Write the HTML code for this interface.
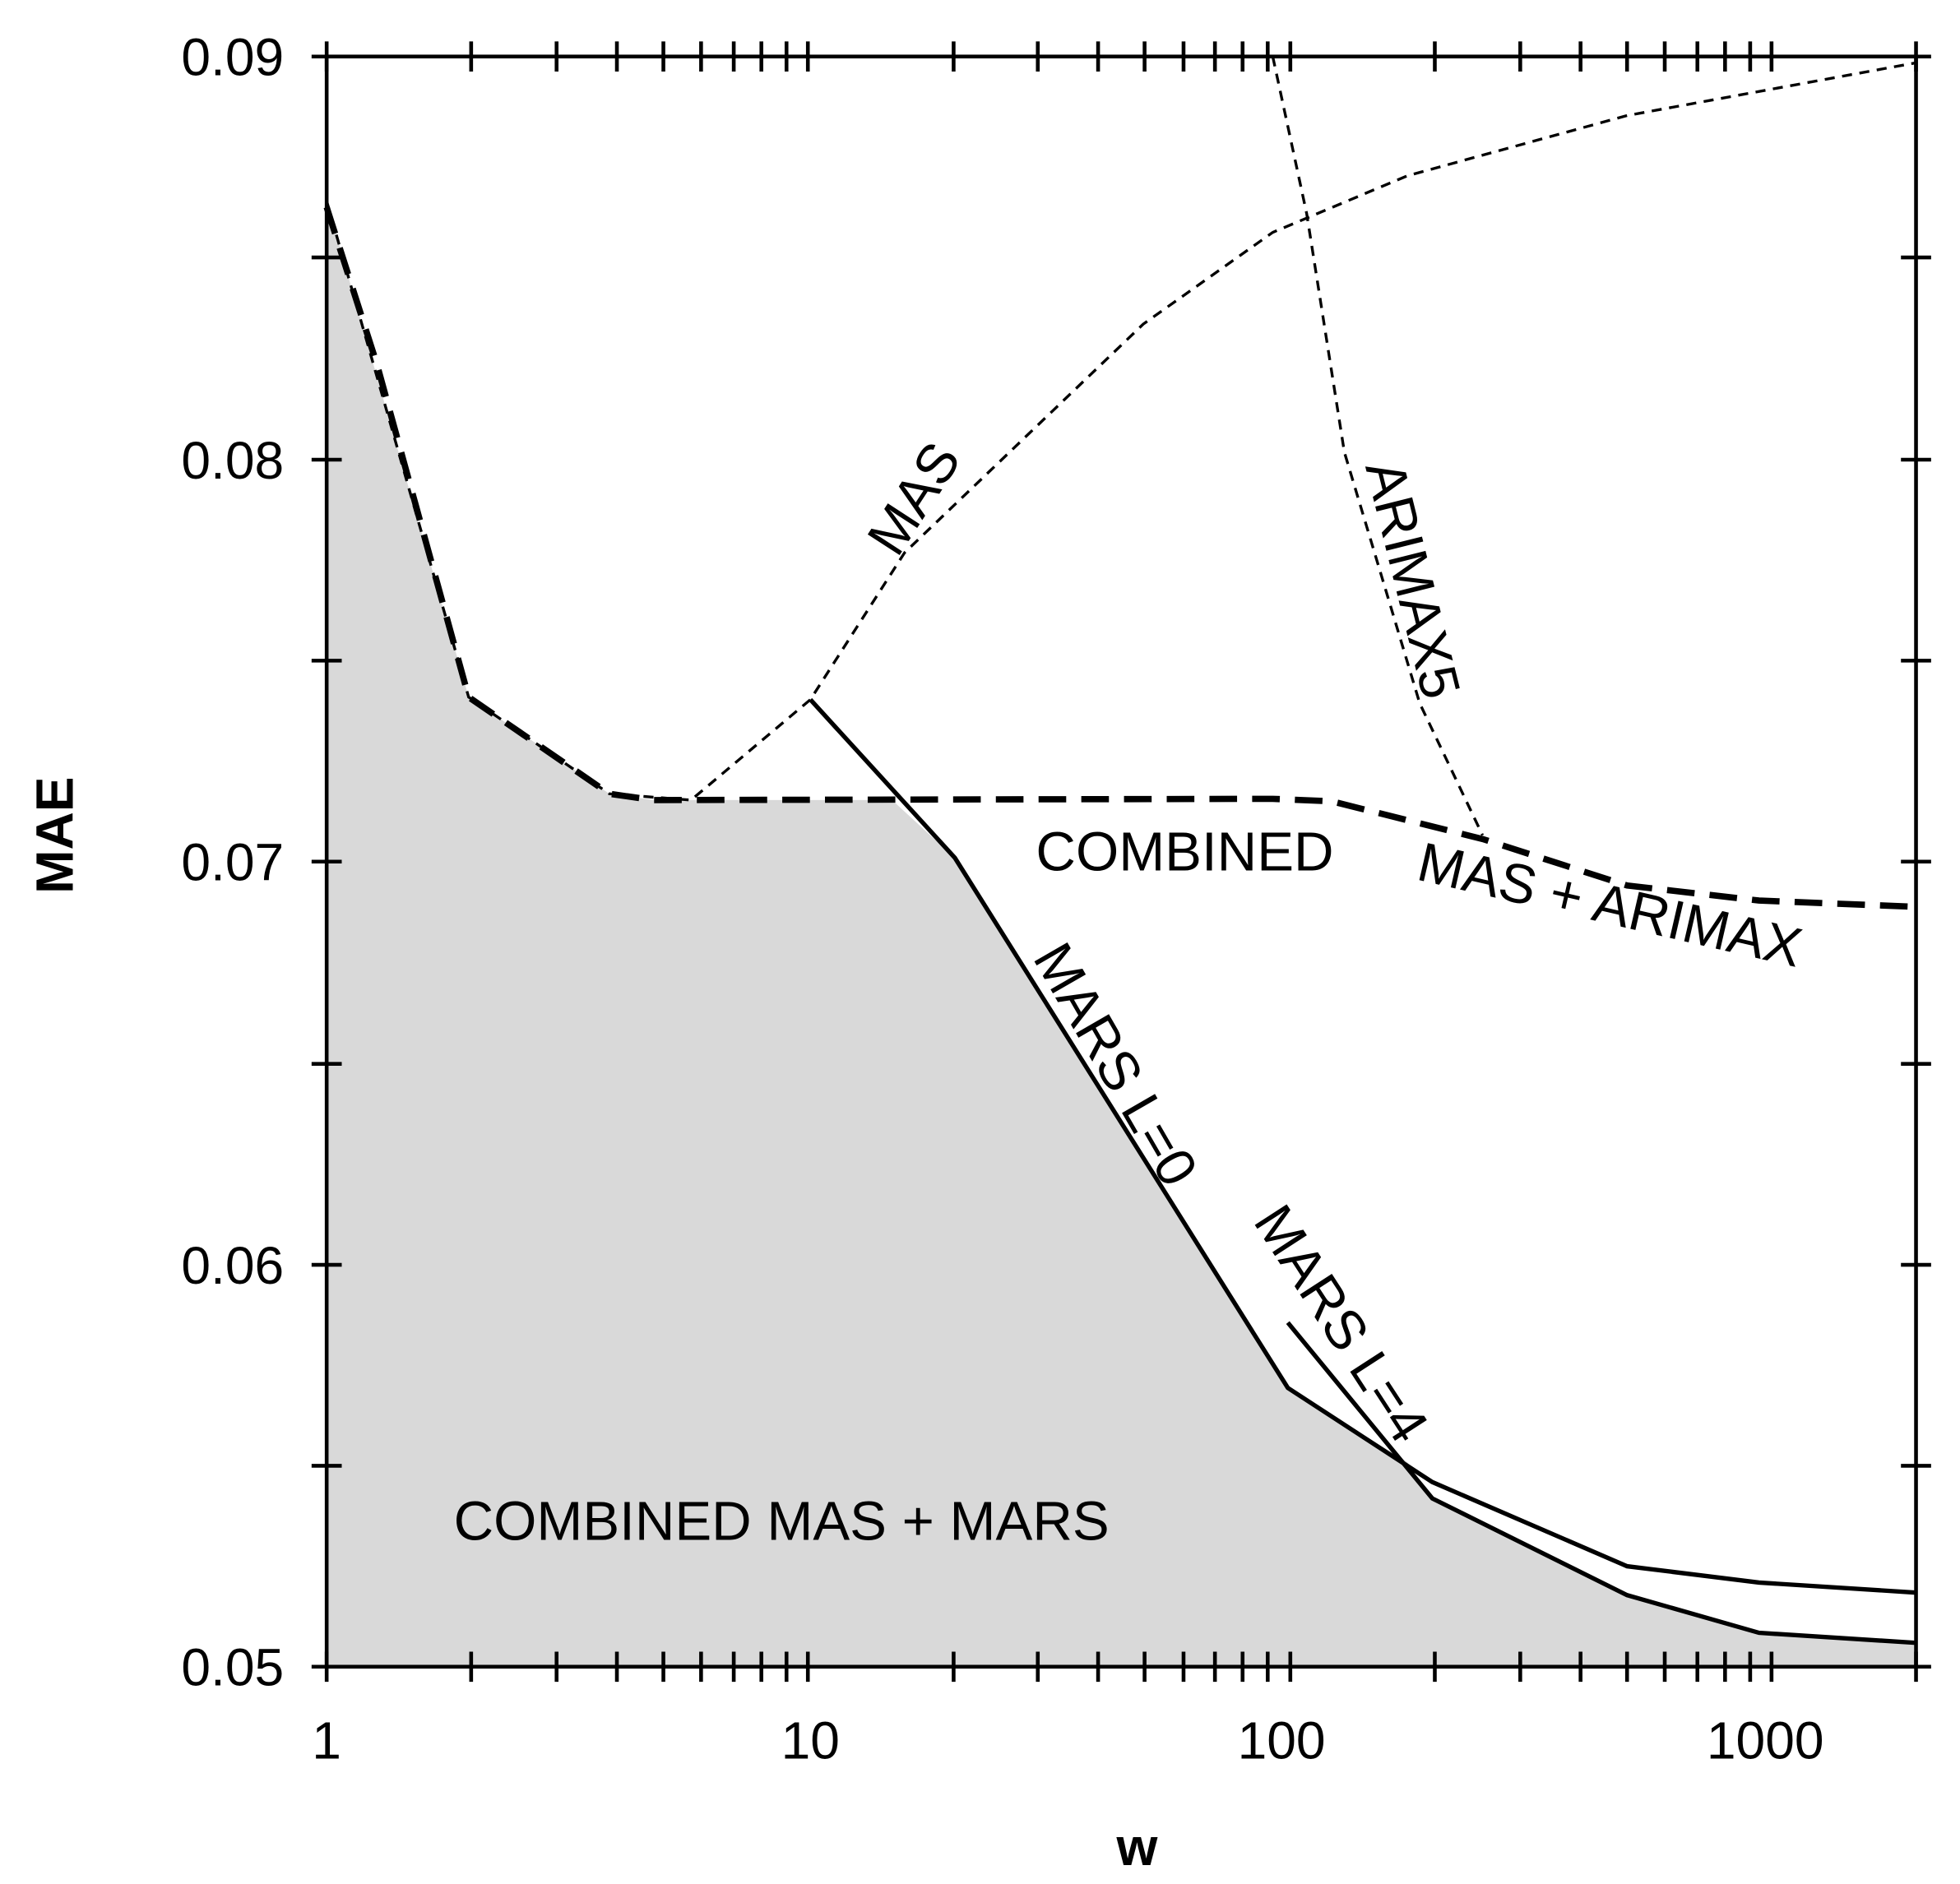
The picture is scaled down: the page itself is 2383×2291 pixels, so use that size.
<!DOCTYPE html>
<html><head><meta charset="utf-8"><style>html,body{margin:0;padding:0;background:#fff;}svg{display:block}</style></head>
<body>
<svg width="2383" height="2291" viewBox="0 0 1560 1500" preserveAspectRatio="none" xmlns="http://www.w3.org/2000/svg" font-family="Liberation Sans, Arial, sans-serif">
<polygon fill="#d9d9d9" points="260,160 373,555 485,632 520,637 710,637 760,683 1025,1105 1120,1164 1140,1193 1295,1270 1400,1300 1525,1308 1525,1327 260,1327"/>
<polyline fill="none" stroke="#000" stroke-width="2.2" stroke-dasharray="8,6" points="260,160 373,555 485,632 550,637 645,557 720,440 910,258 1013,185 1120,140 1295,92 1525,50"/>
<polyline fill="none" stroke="#000" stroke-width="2.2" stroke-dasharray="8,6" points="1013,45 1040,170 1070,360 1100,460 1130,560 1180,665"/>
<polyline fill="none" stroke="#000" stroke-width="5" stroke-dasharray="22,12" points="260,165 300,290 373,555 485,632 520,637 1013,636 1060,638 1180,668 1295,705 1400,717 1525,722"/>
<polyline fill="none" stroke="#000" stroke-width="3.5" points="645,557 760,683 1025,1105 1140,1180 1295,1247 1400,1260 1525,1268"/>
<polyline fill="none" stroke="#000" stroke-width="3.5" points="1025,1053 1140,1193 1295,1270 1400,1300 1525,1308"/>
<rect x="260" y="45" width="1265" height="1282" fill="none" stroke="#000" stroke-width="3"/>
<g stroke="#000" stroke-width="3">
<path d="M248,45h24M248,205h24M248,366h24M248,526h24M248,686h24M248,847h24M248,1007h24M248,1167h24M248,1327h24"/>
<path d="M1513,45h24M1513,205h24M1513,366h24M1513,526h24M1513,686h24M1513,847h24M1513,1007h24M1513,1167h24M1513,1327h24"/>
<path d="M260,33v24M375,33v24M443,33v24M491,33v24M528,33v24M558,33v24M584,33v24M606,33v24M626,33v24M643,33v24M759,33v24M826,33v24M874,33v24M911,33v24M942,33v24M967,33v24M989,33v24M1009,33v24M1027,33v24M1142,33v24M1210,33v24M1258,33v24M1295,33v24M1325,33v24M1351,33v24M1373,33v24M1393,33v24M1410,33v24M1525,33v24"/>
<path d="M260,1315v24M375,1315v24M443,1315v24M491,1315v24M528,1315v24M558,1315v24M584,1315v24M606,1315v24M626,1315v24M643,1315v24M759,1315v24M826,1315v24M874,1315v24M911,1315v24M942,1315v24M967,1315v24M989,1315v24M1009,1315v24M1027,1315v24M1142,1315v24M1210,1315v24M1258,1315v24M1295,1315v24M1325,1315v24M1351,1315v24M1373,1315v24M1393,1315v24M1410,1315v24M1525,1315v24"/>
</g>
<g font-size="42" text-anchor="end" fill="#000">
<text x="226" y="60">0.09</text><text x="226" y="381">0.08</text><text x="226" y="701">0.07</text><text x="226" y="1022">0.06</text><text x="226" y="1342">0.05</text>
</g>
<g font-size="42" text-anchor="middle" fill="#000">
<text x="260" y="1400">1</text><text x="645" y="1400">10</text><text x="1020" y="1400">100</text><text x="1405" y="1400">1000</text>
</g>
<text x="905" y="1485" font-size="42" font-weight="bold" text-anchor="middle">w</text>
<text transform="translate(58,665) rotate(-90)" font-size="42" font-weight="bold" text-anchor="middle">MAE</text>
<g font-size="44" fill="#000" text-anchor="middle">
<text transform="translate(740,405) rotate(-57)">MAS</text>
<text transform="translate(1110,465) rotate(76)">ARIMAX5</text>
<text x="943" y="693">COMBINED</text>
<text transform="translate(1278,735) rotate(13)">MAS + ARIMAX</text>
<text transform="translate(875,855) rotate(60)">MARS L=0</text>
<text transform="translate(1055,1062) rotate(57)">MARS L=4</text>
<text x="622" y="1226">COMBINED MAS + MARS</text>
</g>
</svg>
</body></html>
